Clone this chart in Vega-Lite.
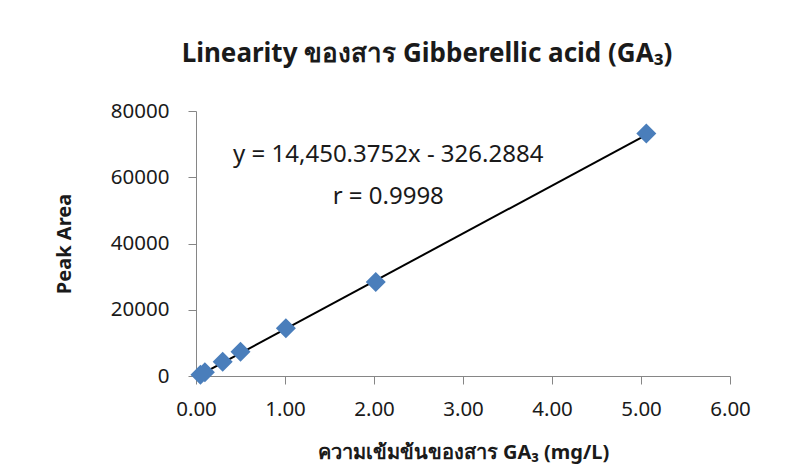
{
  "$schema": "https://vega.github.io/schema/vega-lite/v6.json",
  "autosize": "none",
  "width": 534,
  "height": 265,
  "padding": {"left": 196, "top": 111, "right": 76, "bottom": 97},
  "background": "white",
  "config": {
    "font": "Noto Sans",
    "view": {"stroke": null},
    "axis": {
      "grid": false,
      "domainColor": "#868686",
      "tickColor": "#868686",
      "tickSize": 8,
      "labelFlush": false,
      "labelFont": "Noto Sans",
      "labelFontSize": 20.5,
      "labelColor": "#1a1a1a",
      "titleFont": "Noto Sans",
      "titleFontSize": 20,
      "titleFontWeight": "bold",
      "titleColor": "#1a1a1a"
    }
  },
  "title": {
    "text": "Linearity ของสาร Gibberellic acid (GA₃)",
    "font": "Noto Sans",
    "fontSize": 26,
    "fontWeight": "bold",
    "color": "#1a1a1a",
    "anchor": "middle",
    "dx": -36,
    "baseline": "alphabetic",
    "offset": 13
  },
  "datasets": {
    "points": [
      {"conc": 0.05, "area": 400},
      {"conc": 0.1, "area": 1100},
      {"conc": 0.3, "area": 4300},
      {"conc": 0.5, "area": 7300},
      {"conc": 1.01, "area": 14400},
      {"conc": 2.02, "area": 28400},
      {"conc": 5.06, "area": 73200}
    ],
    "trend": [
      {"conc": 0.05, "area": 396},
      {"conc": 5.06, "area": 72793}
    ]
  },
  "layer": [
    {
      "data": {"name": "trend"},
      "mark": {"type": "line", "color": "black", "strokeWidth": 2},
      "encoding": {
        "x": {
          "field": "conc", "type": "quantitative",
          "scale": {"domain": [0, 6], "nice": false},
          "axis": {
            "values": [0, 1, 2, 3, 4, 5, 6],
            "format": ".2f",
            "labelPadding": 15,
            "title": "ความเข้มข้นของสาร GA₃ (mg/L)",
            "titleBaseline": "middle",
            "titleY": 76
          }
        },
        "y": {
          "field": "area", "type": "quantitative",
          "scale": {"domain": [0, 80000], "nice": false},
          "axis": {
            "values": [0, 20000, 40000, 60000, 80000],
            "format": "d",
            "labelPadding": 19,
            "title": "Peak Area",
            "titleBaseline": "middle",
            "titleX": -132
          }
        }
      }
    },
    {
      "data": {"name": "points"},
      "mark": {"type": "point", "shape": "diamond", "filled": true, "size": 400, "color": "#4A7EBB", "opacity": 1},
      "encoding": {
        "x": {"field": "conc", "type": "quantitative"},
        "y": {"field": "area", "type": "quantitative"}
      }
    },
    {
      "data": {"values": [{}]},
      "mark": {"type": "text", "fontSize": 24, "color": "#1a1a1a", "align": "center", "baseline": "middle", "font": "Noto Sans"},
      "encoding": {
        "x": {"datum": 2.16},
        "y": {"datum": 66700},
        "text": {"value": "y = 14,450.3752x - 326.2884"}
      }
    },
    {
      "data": {"values": [{}]},
      "mark": {"type": "text", "fontSize": 24, "color": "#1a1a1a", "align": "center", "baseline": "middle", "font": "Noto Sans"},
      "encoding": {
        "x": {"datum": 2.16},
        "y": {"datum": 54000},
        "text": {"value": "r = 0.9998"}
      }
    }
  ]
}
